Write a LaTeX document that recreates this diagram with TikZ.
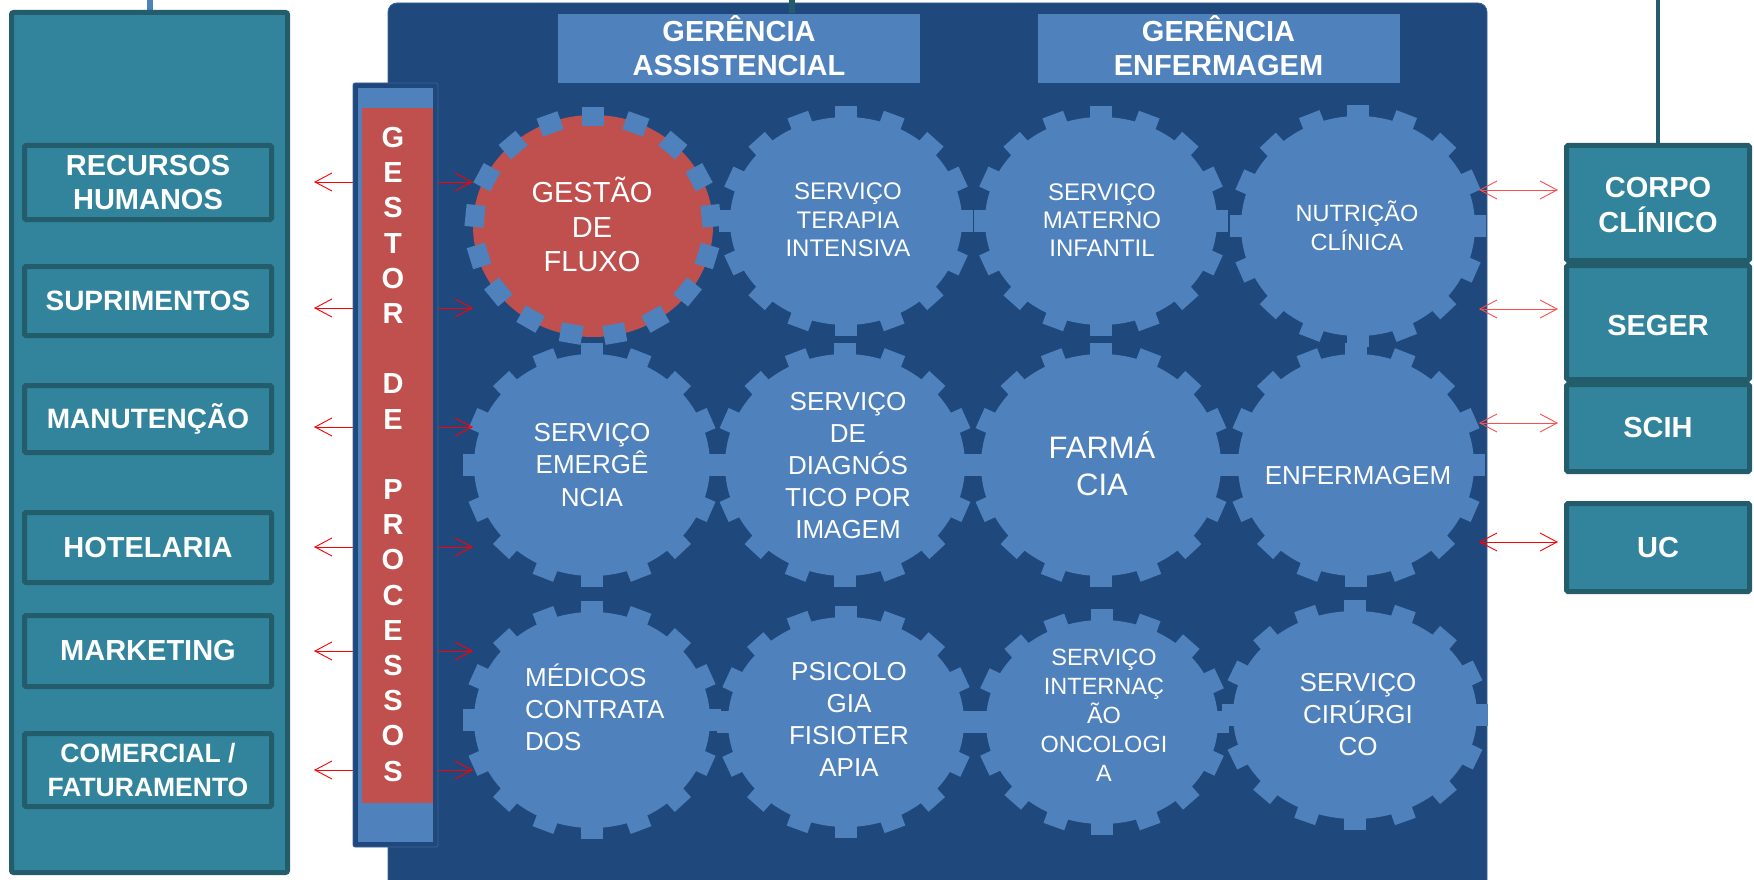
\documentclass[tikz,border=0pt]{standalone}
\usepackage{fontspec}
\setmainfont{Liberation Sans}
\usetikzlibrary{shapes.geometric,arrows.meta}
\definecolor{panelteal}{HTML}{31849B}
\definecolor{tealdark}{HTML}{235C6B}
\definecolor{navy}{HTML}{1F497D}
\definecolor{navyedge}{HTML}{3A6494}
\definecolor{gearblue}{HTML}{4F81BD}
\definecolor{gearred}{HTML}{C0504D}

% #1 cx, #2 cy, #3 rx, #4 ry, #5 number of teeth, #6 inner offset, #7 outer offset
\newcommand\gearteeth[7]{%
  \foreach \k in {1,...,#5}{%
    \pgfmathsetmacro\gang{-90+(\k-1)*360/#5}%
    \pgfmathsetmacro\gpx{#1+#3*cos(\gang)}%
    \pgfmathsetmacro\gpy{#2+#4*sin(\gang)}%
    \pgfmathsetmacro\gnrm{atan2(#3*sin(\gang),#4*cos(\gang))}%
    \fill[gearblue, shift={(\gpx,\gpy)}, rotate=-\gnrm]
      (#6,-11) -- (#7,-11) -- (#7,11) -- (#6,11) -- cycle;
  }%
}

\begin{document}
\begin{tikzpicture}[x=1pt,y=-1pt,
  lbox/.style={draw=tealdark, line width=5pt, fill=panelteal, minimum width=247pt,
    text=white, align=center, inner sep=0pt, rounded corners=1.5pt},
  rbox/.style={draw=tealdark, line width=5pt, fill=panelteal, minimum width=183pt,
    text=white, align=center, inner sep=0pt, rounded corners=1.5pt,
    font=\bfseries\fontsize{29}{35}\selectfont},
  hdr/.style={fill=gearblue, minimum width=362pt, minimum height=69pt, inner sep=0pt,
    text=white, align=center, font=\bfseries\fontsize{29}{34}\selectfont},
  gletter/.style={text=white, inner sep=0pt, text height=20.8pt, text depth=0pt,
    font=\bfseries\fontsize{29}{34}\selectfont},
  gbody/.style={ellipse, inner sep=0pt, outer sep=0pt},
  gtext/.style={text=white, align=center, inner sep=0pt},
  redarrow/.style={red, line width=0.9pt,
    arrows={Straight Barb[length=17pt,width=18pt]-Straight Barb[length=17pt,width=18pt]}},
  pinkarrow/.style={redarrow, draw=red!70}
]
\useasboundingbox (0,0) rectangle (1754,880);

% ---------- left panel ----------
\draw[gearblue, line width=6pt] (150,0) -- (150,12);
\node[draw=tealdark, line width=5pt, fill=panelteal, rounded corners=2pt,
      minimum width=276pt, minimum height=860pt, inner sep=0pt] (leftpanel) at (149.5,442.5) {};

\node[lbox, minimum height=74pt, font=\bfseries\fontsize{29}{34.5}\selectfont] (rh) at (148,182.5) {RECURSOS\\HUMANOS};
\node[lbox, minimum height=69pt, font=\bfseries\fontsize{28}{34}\selectfont] (sup) at (148,301) {SUPRIMENTOS};
\node[lbox, minimum height=67pt, font=\bfseries\fontsize{28}{34}\selectfont] (man) at (148,419) {MANUTEN\smash{ÇÃ}O};
\node[lbox, minimum height=70pt, font=\bfseries\fontsize{29}{34}\selectfont] (hot) at (148,547.5) {HOTELARIA};
\node[lbox, minimum height=71pt, font=\bfseries\fontsize{29}{34}\selectfont] (mkt) at (148,651) {MARKETING};
\node[lbox, minimum height=73pt, font=\bfseries\fontsize{26.5}{34}\selectfont] (com) at (148,770) {COMERCIAL /\\FATURAMENTO};

% ---------- main panel ----------
\fill[navy, rounded corners=9pt] (388,3) rectangle (1487,920);
\draw[navyedge, line width=0.8pt, rounded corners=9pt] (388,920) -- (388,3) -- (1487,3) -- (1487,920);
\draw[tealdark, line width=6pt] (792,0) -- (792,13);

\node[hdr] (ga) at (739,48.5) {GER\smash{Ê}NCIA\\ASSISTENCIAL};
\node[hdr] (ge) at (1218.5,48.5) {GER\smash{Ê}NCIA\\ENFERMAGEM};

% ---------- gears ----------
% row 1
\node[gbody, fill=gearred, minimum width=240pt, minimum height=222pt] (g11) at (593,226) {};
\gearteeth{593}{226}{120}{111}{17}{-11}{8}
\gearteeth{846}{221}{116}{104}{16}{-3}{11}
\node[gbody, fill=gearblue, minimum width=232pt, minimum height=208pt] (g12) at (846,221) {};
\gearteeth{1101}{221}{116}{104}{16}{-3}{11}
\node[gbody, fill=gearblue, minimum width=232pt, minimum height=208pt] (g13) at (1101,221) {};
\gearteeth{1358}{226}{117}{110}{16}{-3}{11}
\node[gbody, fill=gearblue, minimum width=234pt, minimum height=220pt] (g14) at (1358,226) {};
% row 2
\gearteeth{592}{465}{118}{111}{16}{-3}{11}
\node[gbody, fill=gearblue, minimum width=236pt, minimum height=222pt] (g21) at (592,465) {};
\gearteeth{845}{465}{120}{111}{16}{-3}{11}
\node[gbody, fill=gearblue, minimum width=240pt, minimum height=222pt] (g22) at (845,465) {};
\gearteeth{1101}{465}{120}{111}{16}{-3}{11}
\node[gbody, fill=gearblue, minimum width=240pt, minimum height=222pt] (g23) at (1101,465) {};
\gearteeth{1356}{465}{118}{111}{16}{-3}{11}
\node[gbody, fill=gearblue, minimum width=236pt, minimum height=222pt] (g24) at (1356,465) {};
% row 3
\gearteeth{592}{720}{118}{108}{16}{-3}{11}
\node[gbody, fill=gearblue, minimum width=236pt, minimum height=216pt] (g31) at (592,720) {};
\gearteeth{846}{722}{118}{105}{16}{-3}{11}
\node[gbody, fill=gearblue, minimum width=236pt, minimum height=210pt] (g32) at (846,722) {};
\gearteeth{1102}{722}{116}{102}{16}{-3}{11}
\node[gbody, fill=gearblue, minimum width=232pt, minimum height=204pt] (g33) at (1102,722) {};
\gearteeth{1355}{715}{122}{104}{16}{-3}{11}
\node[gbody, fill=gearblue, minimum width=244pt, minimum height=208pt] (g34) at (1355,715) {};

% gear texts
\node[gtext, font=\fontsize{29}{34.5}\selectfont] (t11) at (592,227.5) {GEST\smash{Ã}O\\DE\\FLUXO};
\node[gtext, font=\fontsize{24}{28.5}\selectfont] (t12) at (848,220) {SERVIÇO\\TERAPIA\\INTENSIVA};
\node[gtext, font=\fontsize{24}{28}\selectfont] (t13) at (1102,220) {SERVIÇO\\MATERNO\\INFANTIL};
\node[gtext, font=\fontsize{23.5}{29}\selectfont] (t14) at (1357,228) {NUTRI\smash{ÇÃ}O\\CLÍNICA};
\node[gtext, font=\fontsize{26}{32.5}\selectfont] (t21) at (592,465) {SERVIÇO\\EMERGÊ\\NCIA};
\node[gtext, font=\fontsize{26}{32}\selectfont] (t22) at (848,466) {SERVIÇO\\DE\\DIAGNÓS\\TICO POR\\IMAGEM};
\node[gtext, font=\fontsize{31}{37}\selectfont] (t23) at (1102,466.5) {FARM\smash{Á}\\CIA};
\node[gtext, text height=18.6pt, text depth=0pt, font=\fontsize{26}{32}\selectfont] (t24) at (1358,475) {ENFERMAGEM};
\node[gtext, align=left, anchor=west, font=\fontsize{26}{32}\selectfont] (t31) at (525,710) {M\smash{É}DICOS\\CONTRATA\\DOS};
\node[gtext, font=\fontsize{26}{32}\selectfont] (t32) at (849,719.5) {PSICOLO\\GIA\\FISIOTER\\APIA};
\node[gtext, font=\fontsize{23.5}{29}\selectfont] (t33) at (1104,715) {SERVIÇO\\INTERNAÇ\\ÃO\\ONCOLOGI\\A};
\node[gtext, font=\fontsize{26}{32}\selectfont] (t34) at (1358,715) {SERVIÇO\\CIRÚRGI\\CO};

% ---------- arrows to the left ----------
\foreach \i/\yy in {1/182,2/308,3/427,4/547,5/651,6/770}{
  \coordinate (la\i) at (314,\yy);
  \coordinate (ra\i) at (473,\yy);
  \draw[redarrow] (la\i) -- (ra\i);
}

% ---------- gestor de processos ----------
\node[fill=navy, draw=navyedge, line width=0.8pt, rounded corners=2pt, minimum width=85pt,
      minimum height=764pt, inner sep=0pt] (gestor) at (395.5,465) {};
\fill[gearblue] (358,88) rectangle (433,842);
\fill[gearred] (362,108) rectangle (433,803);
\foreach \i/\c in {0/G,1/E,2/S,3/T,4/O,5/R,7/D,8/E,10/P,11/R,12/O,13/C,14/E,15/S,16/S,17/O,18/S}{
  \node[gletter] (gl\i) at (393,{137+35.2*\i}) {\c};
}

% ---------- right side ----------
\coordinate (topR) at (1658,0);
\node[rbox, minimum height=115pt] (corpo) at (1658,203) {\rule{0pt}{25pt}CORPO\\CLÍNICO};
\node[rbox, minimum height=114pt, text height=25.8pt, text depth=0pt] (seger) at (1658,322.5) {SEGER};
\node[rbox, minimum height=87pt] (scih) at (1658,428) {SCIH};
\node[rbox, minimum height=88pt] (uc) at (1658,547.5) {UC};
\draw[tealdark, line width=4.5pt] (topR) -- (corpo.north);

\foreach \i/\yy in {1/190,2/309,3/423}{
  \coordinate (rl\i) at (1479,\yy);
  \coordinate (rr\i) at (1558,\yy);
  \draw[pinkarrow] (rl\i) -- (rr\i);
}
\coordinate (rl4) at (1479,542);
\coordinate (rr4) at (1558,542);
\draw[redarrow] (rl4) -- (rr4);
\end{tikzpicture}
\end{document}
